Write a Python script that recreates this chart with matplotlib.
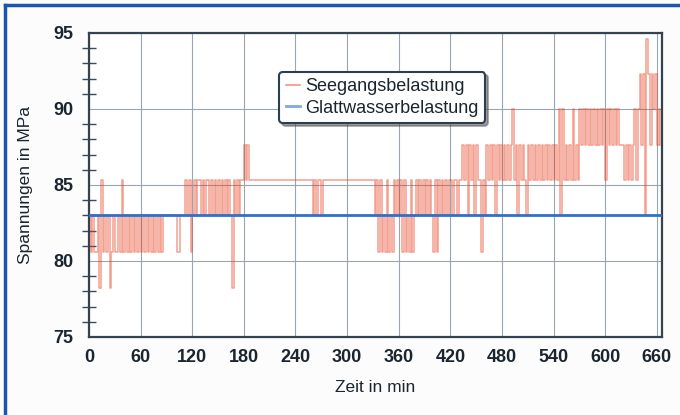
import numpy as np
import matplotlib.pyplot as plt

# --- Daten ---
# Spannungsstufen in MPa
LEVELS = [78.2, 80.6, 83.0, 85.3, 87.6, 90.0, 92.3, 94.6]

# Seegang: Stufenindex je 2 Minuten, je Zeile eine Stunde (0..664 min)
SEEGANG_IDX = (
    "212112031212012112131212121212"   # 0-58
    "121212121212122222222112223231"   # 60-118
    "232332323323232323232320323233"   # 120-178
    "434333333333333333333333333333"   # 180-238
    "333333333323233233333333333333"   # 240-298
    "333333333333333323131213121323"   # 300-358
    "231312131232323232321313232323"   # 360-418
    "323323343424342433132434342434"   # 420-478
    "343434534243432434343434343434"   # 480-538
    "343525343435343545454545454545"   # 540-598
    "354545454443434345356462764656454"  # 600-664
)
zeit = np.arange(len(SEEGANG_IDX)) * 2
seegang = [LEVELS[int(c)] for c in SEEGANG_IDX]

glattwasser_zeit = [0, 666]
glattwasser = [83.0, 83.0]

x_ticks = list(range(0, 661, 60))
y_ticks = [75, 80, 85, 90, 95]

# --- Plot ---
plt.rcParams['font.family'] = ['Liberation Sans', 'DejaVu Sans']

fig = plt.figure(figsize=(6.8, 4.15), dpi=100, facecolor='#fdfcfc')
ax = fig.add_axes([0.1309, 0.188, 0.8426, 0.7325])
ax.set_facecolor('white')

ax.plot(zeit, seegang, drawstyle='steps-post', color='#e8401f', alpha=0.5,
        lw=1.1, label='Seegangsbelastung', zorder=3)
ax.plot(glattwasser_zeit, glattwasser, color='#2f6fcf', lw=2,
        label='Glattwasserbelastung', zorder=4)

ax.set_xlim(0, 666)
ax.set_ylim(75, 95)
ax.set_xticks(x_ticks)
ax.set_yticks(y_ticks)
ax.set_yticks(np.arange(75, 96, 1), minor=True)
ax.tick_params(axis='x', length=0, pad=9, labelsize=13, colors='#1a2530')
ax.tick_params(axis='y', which='major', length=0, pad=11, labelsize=13, colors='#1a2530')
ax.tick_params(axis='y', which='minor', direction='inout', length=10, width=1,
               color='#3a4a5a')
for lab in ax.get_xticklabels() + ax.get_yticklabels():
    lab.set_fontweight('bold')

ax.grid(True, which='major', color='#9aa5b1', lw=0.8, linestyle='-')
for s in ax.spines.values():
    s.set_color('#34434f')
    s.set_linewidth(1.6)

ax.set_xlabel('Zeit in min', fontsize=12.5, color='#1a2530', labelpad=10)
ax.set_ylabel('Spannungen in MPa', fontsize=12.5, color='#1a2530', labelpad=15)

leg = ax.legend(loc='upper left', bbox_to_anchor=(0.332, 0.872), fontsize=13,
                frameon=True, fancybox=True, shadow=True, handlelength=0.8,
                handletextpad=0.3, borderpad=0.35, labelspacing=0.25,
                borderaxespad=0)
leg.get_frame().set_edgecolor('#2c3e50')
leg.get_frame().set_linewidth(1.5)
for h in leg.get_lines():
    h.set_alpha(0.6)
for t in leg.get_texts():
    t.set_color('#1a2530')

# blauer Rahmen oben und links
fig.add_artist(plt.Line2D([0.0074, 0.0074], [0, 0.988], color='#1c55b0', lw=2.5,
                          transform=fig.transFigure))
fig.add_artist(plt.Line2D([0.0074, 1], [0.988, 0.988], color='#1c55b0', lw=2.5,
                          transform=fig.transFigure))

fig.savefig('out.png', dpi=100, facecolor=fig.get_facecolor())
